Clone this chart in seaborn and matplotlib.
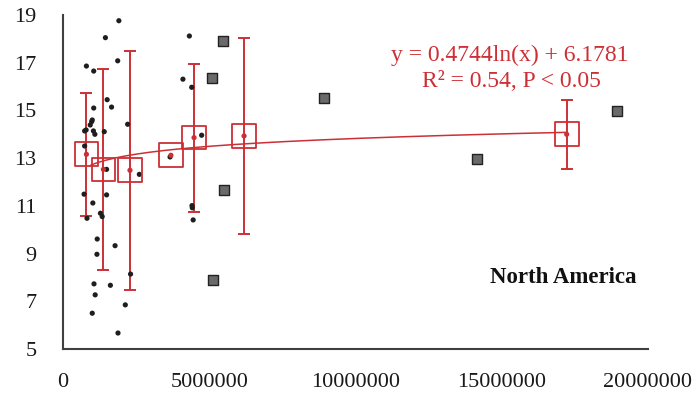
import numpy as np
import pandas as pd
import matplotlib
matplotlib.use("Agg")
import matplotlib.pyplot as plt
from matplotlib.ticker import MultipleLocator
import seaborn as sns

# ---- data (x in millions) ----
dots_x = [1.91, 1.45, 4.32, 0.80, 1.05, 1.87, 4.10, 4.40, 1.51, 1.66, 1.05, 1.00, 0.98,
          0.93, 0.79, 0.74, 1.04, 1.09, 1.41, 2.21, 0.74, 4.74, 1.49, 2.61, 0.72, 1.02,
          1.49, 1.28, 1.34, 0.82, 1.17, 1.16, 1.78, 1.06, 1.10, 1.62, 2.31, 1.00, 2.13,
          1.88, 4.41, 4.42, 4.45, 3.66]
dots_y = [18.76, 18.05, 18.12, 16.86, 16.65, 17.08, 16.31, 15.97, 15.45, 15.14, 15.10,
          14.60, 14.53, 14.39, 14.18, 14.14, 14.14, 14.00, 14.11, 14.42, 13.51, 13.96,
          12.53, 12.32, 11.49, 11.12, 11.46, 10.69, 10.55, 10.48, 9.61, 8.97, 9.33, 7.73,
          7.27, 7.67, 8.14, 6.50, 6.85, 5.67, 11.01, 10.92, 10.41, 13.05]

sq_x = [5.48, 5.09, 5.51, 5.12, 8.92, 14.16, 18.93]
sq_y = [17.91, 16.37, 11.67, 7.89, 15.53, 12.96, 14.98]

bin_x = [0.80, 1.38, 2.29, 3.69, 4.48, 6.19, 17.22]
bin_y = [13.16, 12.53, 12.49, 13.12, 13.86, 13.93, 14.00]
bin_err = [2.58, 4.20, 5.00, 0.0, 3.10, 4.10, 1.45]

fit_a, fit_b = 0.4744, 6.1781
fit_range = [0.95, 17.22]

x_ticks = [0, 5000000, 10000000, 15000000, 20000000]
y_ticks = [5, 7, 9, 11, 13, 15, 17, 19]

RED = "#cc3036"
SERIF = "Liberation Serif"

dots = pd.DataFrame({"x": np.array(dots_x) * 1e6, "y": dots_y})
squares = pd.DataFrame({"x": np.array(sq_x) * 1e6, "y": sq_y})
bins = pd.DataFrame({"x": np.array(bin_x) * 1e6, "y": bin_y, "err": bin_err})
fx = np.linspace(fit_range[0] * 1e6, fit_range[1] * 1e6, 400)
fit = pd.DataFrame({"x": fx, "y": fit_a * np.log(fx) + fit_b})

sns.set_style("white")
plt.rcParams["font.family"] = [SERIF, "DejaVu Sans"]

fig = plt.figure(figsize=(6.99, 3.96), dpi=100)
ax = fig.add_axes([63 / 699, 47 / 396, 585 / 699, 334 / 396])

# error bars
eb = bins[bins["err"] > 0]
ax.errorbar(eb["x"], eb["y"], yerr=eb["err"], fmt="none", ecolor=RED,
            elinewidth=1.4, capsize=4.5, capthick=1.4, zorder=2)

# fit line
sns.lineplot(data=fit, x="x", y="y", ax=ax, color=RED, linewidth=1.1, zorder=3)

# black points
sns.scatterplot(data=dots, x="x", y="y", ax=ax, color="#1e1e1e", s=14,
                edgecolor="none", zorder=4)

# gray squares
sns.scatterplot(data=squares, x="x", y="y", ax=ax, marker="s", color="#6a6a6a",
                s=42, edgecolor="#222222", linewidth=1.0, zorder=4)

# bin boxes
sns.scatterplot(data=bins, x="x", y="y", ax=ax, marker="s", s=290,
                facecolor="none", edgecolor=RED, linewidth=1.3, zorder=5)
sns.scatterplot(data=bins, x="x", y="y", ax=ax, color=RED, s=14,
                edgecolor="none", zorder=6)

ax.set_xlim(0, 20000000)
ax.set_ylim(5, 19)
ax.set_xticks(x_ticks)
ax.set_xticklabels([str(t) for t in x_ticks])
ax.set_yticks(y_ticks)
ax.set_yticklabels([str(t) for t in y_ticks])
ax.xaxis.set_minor_locator(MultipleLocator(1000000))
ax.set_xlabel("")
ax.set_ylabel("")

for s in ["top", "right"]:
    ax.spines[s].set_visible(False)
for s in ["left", "bottom"]:
    ax.spines[s].set_color("#404040")
    ax.spines[s].set_linewidth(1.5)

ax.tick_params(axis="both", which="major", direction="in", length=5, width=1.2,
               color="#404040", labelsize=16, labelcolor="#1a1a1a")
ax.tick_params(axis="x", which="minor", direction="in", length=4, width=1.0,
               color="#404040")
ax.tick_params(axis="x", which="major", pad=17)
ax.tick_params(axis="y", which="major", pad=19)

ax.text(0.764, 0.880, "y = 0.4744ln(x) + 6.1781", transform=ax.transAxes,
        ha="center", va="center", color=RED, fontsize=17, family=SERIF)
ax.text(0.766, 0.802, "R² = 0.54, P < 0.05", transform=ax.transAxes,
        ha="center", va="center", color=RED, fontsize=17, family=SERIF)
ax.text(0.981, 0.213, "North America", transform=ax.transAxes, ha="right",
        va="center", color="#111111", fontsize=16.5, fontweight="bold", family=SERIF)

fig.savefig("out.png", dpi=100)
